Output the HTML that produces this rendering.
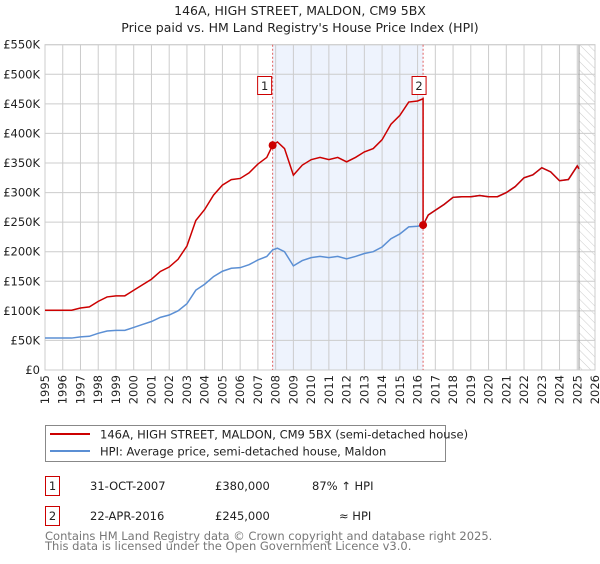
<!DOCTYPE html>
<html><head><meta charset="utf-8"><style>
body{margin:0;background:#fff;font-family:"DejaVu Sans","Liberation Sans",sans-serif;}
svg text{font-family:"DejaVu Sans","Liberation Sans",sans-serif;}
</style></head><body>
<svg id="c" width="600" height="560" viewBox="0 0 600 560" xmlns="http://www.w3.org/2000/svg">
<defs><pattern id="hatch" width="6" height="6" patternUnits="userSpaceOnUse" patternTransform="rotate(-45)"><line x1="0" y1="0" x2="0" y2="6" stroke="#ccc" stroke-width="1"/></pattern></defs>
<text x="300" y="15" text-anchor="middle" font-size="12.5" fill="#222">146A, HIGH STREET, MALDON, CM9 5BX</text>
<text x="300" y="32" text-anchor="middle" font-size="12.5" fill="#222">Price paid vs. HM Land Registry's House Price Index (HPI)</text>
<g id="plot"></g>
<g>
<rect x="45.5" y="425.5" width="400" height="36" fill="#fff" stroke="#888"/>
<line x1="50" y1="434" x2="90" y2="434" stroke="#cc0000" stroke-width="2"/>
<text x="100" y="438.5" font-size="11.5" fill="#222">146A, HIGH STREET, MALDON, CM9 5BX (semi-detached house)</text>
<line x1="50" y1="451" x2="90" y2="451" stroke="#5b8fd4" stroke-width="2"/>
<text x="100" y="455.5" font-size="11.5" fill="#222">HPI: Average price, semi-detached house, Maldon</text>
</g>
<g font-size="11.5" fill="#222">
<rect x="45.5" y="476.5" width="14" height="19" fill="#fff" stroke="#cc0000"/>
<text x="52.5" y="490" text-anchor="middle">1</text>
<text x="90" y="490">31-OCT-2007</text>
<text x="215" y="490">£380,000</text>
<text x="312" y="490">87% ↑ HPI</text>
<rect x="45.5" y="506.5" width="14" height="19" fill="#fff" stroke="#cc0000"/>
<text x="52.5" y="520" text-anchor="middle">2</text>
<text x="90" y="520">22-APR-2016</text>
<text x="215" y="520">£245,000</text>
<text x="339" y="520">≈ HPI</text>
</g>
<text x="45" y="540" font-size="11.5" fill="#777">Contains HM Land Registry data © Crown copyright and database right 2025.</text>
<text x="45" y="550" font-size="11.5" fill="#777">This data is licensed under the Open Government Licence v3.0.</text>
</svg>
<script>
const yearTicks=[1995,1996,1997,1998,1999,2000,2001,2002,2003,2004,2005,2006,2007,2008,2009,2010,2011,2012,2013,2014,2015,2016,2017,2018,2019,2020,2021,2022,2023,2024,2025,2026];
const priceTicks=[0,50,100,150,200,250,300,350,400,450,500,550];
const priceLabels=["£0","£50K","£100K","£150K","£200K","£250K","£300K","£350K","£400K","£450K","£500K","£550K"];
const hpiDates=[1995,1995.5,1996,1996.5,1997,1997.5,1998,1998.5,1999,1999.5,2000,2000.5,2001,2001.5,2002,2002.5,2003,2003.5,2004,2004.5,2005,2005.5,2006,2006.5,2007,2007.5,2007.83,2008.1,2008.5,2009,2009.5,2010,2010.5,2011,2011.5,2012,2012.5,2013,2013.5,2014,2014.5,2015,2015.5,2016,2016.31,2016.6,2017,2017.5,2018,2018.5,2019,2019.5,2020,2020.5,2021,2021.5,2022,2022.5,2023,2023.5,2024,2024.5,2025,2025.1];
const hpiValues=[54,54,54,54,56,57,62,66,67,67,72,77,82,89,93,100,112,135,145,158,167,172,173,178,186,192,203,206,200,176,185,190,192,190,192,188,192,197,200,208,222,230,242,243,245,262,270,280,292,293,293,295,293,293,300,310,325,330,342,335,320,322,345,340];
const saleDates=[2007.83,2016.31];
const salePrices=[380,245];
const x0=45,x1=595,y0=370,y1=44.7;
const X=d=>x0+(d-1995)/(2026-1995)*(x1-x0);
const Y=v=>y0-v/550*(y0-y1);
const NS="http://www.w3.org/2000/svg";
const g=document.getElementById('plot');
function el(t,a,p){const e=document.createElementNS(NS,t);for(const k in a)e.setAttribute(k,a[k]);(p||g).appendChild(e);return e;}
let r=el('rect',{x:X(saleDates[0]),y:y1,width:X(saleDates[1])-X(saleDates[0]),height:y0-y1,fill:'#eef3fd'});


let h=el('rect',{x:X(2025.1),y:y1,width:x1-X(2025.1),height:y0-y1,fill:'url(#hatch)'});


yearTicks.forEach(yr=>{
 let l=el('line',{x1:X(yr),x2:X(yr),y1:y1,y2:y0,stroke:'#ccc','stroke-width':1});
 
 
 let t=el('text',{x:0,y:0,'font-size':11.5,fill:'#222','text-anchor':'end',transform:`translate(${X(yr)+4},${y0+5}) rotate(-90)`});
 t.textContent=yr;
 
 
});
priceTicks.forEach((v,i)=>{
 let l=el('line',{x1:x0,x2:x1,y1:Y(v),y2:Y(v),stroke:'#ccc','stroke-width':1});
 
 
 let t=el('text',{x:40,y:Y(v)+4,'font-size':11.5,fill:'#222','text-anchor':'end'});
 t.textContent=priceLabels[i];
 
 
});
let bl=el('line',{x1:X(2025.1),x2:X(2025.1),y1:y1,y2:y0,stroke:'#999','stroke-width':1});


let fr=el('rect',{x:x0,y:y1,width:x1-x0,height:y0-y1,fill:'none',stroke:'#ccc'});


saleDates.forEach((d,i)=>{
 let l=el('line',{x1:X(d),x2:X(d),y1:y1,y2:y0,stroke:'#e06060','stroke-width':1,'stroke-dasharray':'2,2'});
 
 
});
// HPI line
let hp=el('polyline',{points:hpiDates.map((d,i)=>X(d)+','+Y(hpiValues[i])).join(' '),fill:'none',stroke:'#5b8fd4','stroke-width':1.5});


// Property line: HPI indexed from each sale
function hpiAt(d){for(let i=0;i<hpiDates.length-1;i++){if(d>=hpiDates[i]&&d<=hpiDates[i+1]){const f=(d-hpiDates[i])/(hpiDates[i+1]-hpiDates[i]);return hpiValues[i]+f*(hpiValues[i+1]-hpiValues[i]);}}return hpiValues[hpiValues.length-1];}
const r1=salePrices[0]/hpiAt(saleDates[0]), r2=salePrices[1]/hpiAt(saleDates[1]);
let pts=[];
hpiDates.forEach((d,i)=>{ if(d<=saleDates[1]) pts.push([d,hpiValues[i]*r1]); });
hpiDates.forEach((d,i)=>{ if(d>=saleDates[1]) pts.push([d,hpiValues[i]*r2]); });
let pl=el('polyline',{points:pts.map(p=>X(p[0])+','+Y(p[1])).join(' '),fill:'none',stroke:'#cc0000','stroke-width':1.5});


saleDates.forEach((d,i)=>{
 let c=el('circle',{cx:X(d),cy:Y(salePrices[i]),r:4,fill:'#cc0000'});
 
 
 const bx=X(d)-(i==0?8:4);
 let b=el('rect',{x:bx-7,y:76.5,width:14,height:18,fill:'#fff',stroke:'#cc0000'});
 
 
 let t=el('text',{x:bx,y:90,'font-size':11.5,fill:'#222','text-anchor':'middle'});
 t.textContent=String(i+1);
 
 
});
</script>
</body></html>
